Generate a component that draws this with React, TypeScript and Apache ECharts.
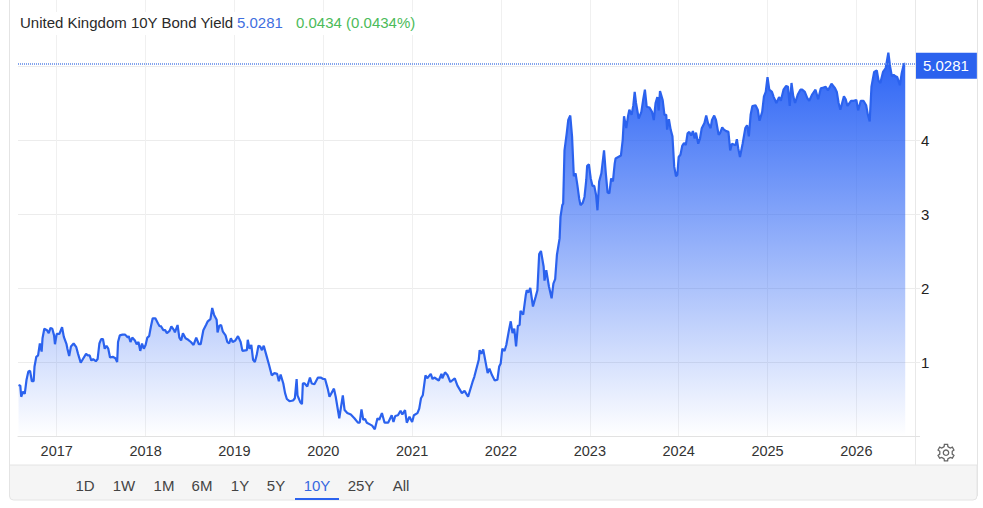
import React, { useEffect, useRef } from "react";
import * as echarts from "echarts";

const t2016 = [2016.57,2016.59,2016.60,2016.62,2016.64,2016.66,2016.68,2016.70,2016.72,2016.74,2016.75,2016.77,2016.79,2016.81,2016.83,2016.84,2016.86,2016.89,2016.91,2016.93,2016.95,2016.97,2016.98];
const y2016 = [0.69,0.68,0.53,0.60,0.57,0.76,0.87,0.88,0.74,0.74,0.94,1.07,1.09,1.25,1.14,1.32,1.45,1.43,1.39,1.46,1.45,1.36,1.24];
const t2017 = [2017.00,2017.03,2017.06,2017.08,2017.11,2017.12,2017.14,2017.16,2017.19,2017.22,2017.24,2017.27,2017.30,2017.33,2017.35,2017.37,2017.39,2017.41,2017.44,2017.46,2017.48,2017.50,2017.52,2017.54,2017.56,2017.58,2017.60,2017.63,2017.66,2017.68,2017.69,2017.71,2017.74,2017.77,2017.80,2017.81,2017.83,2017.85,2017.88,2017.90,2017.92,2017.94,2017.96,2017.98];
const y2017 = [1.38,1.38,1.47,1.34,1.24,1.18,1.08,1.21,1.25,1.20,1.11,0.99,1.05,1.11,1.09,1.09,1.02,1.04,1.01,1.04,1.25,1.31,1.31,1.18,1.22,1.18,1.06,1.07,1.05,1.00,1.27,1.36,1.37,1.37,1.33,1.35,1.27,1.33,1.29,1.24,1.27,1.15,1.25,1.18];
const t2018 = [2018.00,2018.02,2018.04,2018.06,2018.08,2018.11,2018.14,2018.16,2018.17,2018.20,2018.22,2018.24,2018.27,2018.29,2018.32,2018.33,2018.36,2018.38,2018.40,2018.42,2018.45,2018.48,2018.51,2018.54,2018.57,2018.60,2018.62,2018.65,2018.68,2018.70,2018.73,2018.75,2018.77,2018.80,2018.81,2018.83,2018.85,2018.87,2018.90,2018.92,2018.94,2018.96,2018.98];
const y2018 = [1.23,1.33,1.35,1.48,1.59,1.59,1.52,1.48,1.49,1.43,1.43,1.39,1.42,1.48,1.43,1.40,1.50,1.33,1.29,1.39,1.32,1.30,1.27,1.23,1.33,1.24,1.24,1.43,1.50,1.55,1.58,1.73,1.64,1.57,1.40,1.49,1.50,1.41,1.36,1.27,1.25,1.32,1.27];
const t2019 = [2019.01,2019.04,2019.07,2019.09,2019.14,2019.15,2019.17,2019.19,2019.21,2019.23,2019.25,2019.27,2019.29,2019.31,2019.33,2019.36,2019.39,2019.42,2019.45,2019.48,2019.50,2019.52,2019.55,2019.57,2019.59,2019.62,2019.66,2019.68,2019.70,2019.71,2019.74,2019.76,2019.77,2019.79,2019.82,2019.85,2019.87,2019.90,2019.94,2019.97];
const y2019 = [1.29,1.35,1.27,1.15,1.16,1.30,1.18,1.23,1.03,1.00,1.09,1.22,1.21,1.16,1.22,1.09,0.96,0.82,0.85,0.84,0.74,0.83,0.71,0.58,0.50,0.47,0.48,0.51,0.77,0.55,0.46,0.43,0.71,0.71,0.67,0.79,0.71,0.70,0.79,0.79];
const t2020 = [2020.00,2020.02,2020.05,2020.07,2020.12,2020.14,2020.18,2020.22,2020.24,2020.27,2020.31,2020.35,2020.39,2020.41,2020.43,2020.45,2020.47,2020.49,2020.52,2020.55,2020.58,2020.61,2020.63,2020.66,2020.69,2020.73,2020.77,2020.79,2020.81,2020.84,2020.87,2020.89,2020.92,2020.94,2020.97];
const y2020 = [0.77,0.77,0.64,0.53,0.64,0.53,0.24,0.55,0.35,0.31,0.29,0.24,0.18,0.18,0.36,0.22,0.23,0.18,0.16,0.14,0.09,0.24,0.22,0.31,0.18,0.18,0.28,0.19,0.27,0.28,0.34,0.29,0.35,0.18,0.26];
const t2021 = [2021.00,2021.02,2021.06,2021.08,2021.10,2021.12,2021.15,2021.17,2021.21,2021.23,2021.25,2021.30,2021.33,2021.34,2021.37,2021.40,2021.43,2021.48,2021.51,2021.56,2021.59,2021.63,2021.68,2021.70,2021.75,2021.76,2021.78,2021.80,2021.85,2021.87,2021.90,2021.93,2021.96,2021.98,2021.997];
const y2021 = [0.19,0.28,0.31,0.37,0.51,0.55,0.82,0.78,0.84,0.77,0.79,0.75,0.84,0.78,0.86,0.82,0.73,0.78,0.68,0.58,0.61,0.53,0.73,0.80,1.03,1.16,1.11,1.17,0.85,0.91,0.82,0.75,0.76,0.94,0.98];
const t2022 = [2022.015,2022.04,2022.06,2022.09,2022.11,2022.13,2022.15,2022.17,2022.19,2022.21,2022.22,2022.25,2022.28,2022.29,2022.31,2022.33,2022.36,2022.39,2022.41,2022.43,2022.45,2022.48,2022.49,2022.51,2022.54,2022.57,2022.59,2022.61,2022.63,2022.66,2022.67,2022.69,2022.70,2022.715,2022.74,2022.757,2022.78,2022.80,2022.82,2022.84,2022.86,2022.88,2022.895,2022.92,2022.94,2022.96,2022.97,2022.99];
const y2022 = [1.18,1.15,1.23,1.43,1.55,1.39,1.45,1.21,1.49,1.50,1.69,1.64,1.91,1.97,1.94,2.00,1.75,1.88,1.97,2.46,2.50,2.29,2.10,2.24,2.02,1.86,2.06,2.12,2.45,2.67,2.96,3.12,3.14,3.86,4.09,4.27,4.33,4.05,3.51,3.55,3.39,3.21,3.12,3.15,3.23,3.46,3.65,3.67];
const t2023 = [2023.01,2023.03,2023.05,2023.07,2023.086,2023.105,2023.13,2023.16,2023.18,2023.20,2023.22,2023.24,2023.26,2023.28,2023.29,2023.32,2023.35,2023.37,2023.385,2023.41,2023.43,2023.445,2023.47,2023.49,2023.505,2023.52,2023.55,2023.58,2023.60,2023.62,2023.64,2023.67,2023.70,2023.72,2023.74,2023.76,2023.775,2023.79,2023.82,2023.84,2023.86,2023.87,2023.89,2023.91,2023.93,2023.95,2023.97,2023.985];
const y2023 = [3.48,3.38,3.38,3.26,3.05,3.44,3.55,3.86,3.55,3.29,3.28,3.48,3.44,3.68,3.75,3.77,3.79,4.00,4.32,4.16,4.32,4.41,4.34,4.47,4.65,4.50,4.29,4.38,4.54,4.68,4.45,4.44,4.38,4.27,4.50,4.58,4.40,4.66,4.54,4.34,4.34,4.14,4.28,4.14,4.05,3.64,3.51,3.53];
const t2024 = [2024.00,2024.02,2024.04,2024.06,2024.08,2024.10,2024.12,2024.14,2024.16,2024.18,2024.195,2024.22,2024.24,2024.26,2024.29,2024.31,2024.33,2024.36,2024.375,2024.40,2024.42,2024.45,2024.465,2024.49,2024.51,2024.535,2024.56,2024.58,2024.60,2024.64,2024.655,2024.67,2024.69,2024.72,2024.75,2024.77,2024.79,2024.81,2024.83,2024.865,2024.89,2024.91,2024.94,2024.96,2024.98];
const y2024 = [3.77,3.80,3.92,3.96,3.93,4.09,4.11,4.06,4.12,4.02,4.10,3.95,4.02,4.16,4.23,4.33,4.23,4.16,4.27,4.33,4.27,4.07,4.09,4.17,4.14,4.12,4.11,3.86,3.95,3.93,4.01,3.89,3.77,3.95,4.16,4.20,4.05,4.34,4.46,4.47,4.41,4.26,4.38,4.59,4.65];
const t2025 = [2025.00,2025.02,2025.05,2025.07,2025.10,2025.13,2025.15,2025.18,2025.21,2025.23,2025.25,2025.27,2025.29,2025.31,2025.34,2025.37,2025.39,2025.42,2025.45,2025.47,2025.50,2025.54,2025.57,2025.60,2025.63,2025.655,2025.68,2025.72,2025.76,2025.78,2025.80,2025.82,2025.86,2025.88,2025.90,2025.94,2025.97];
const y2025 = [4.85,4.68,4.65,4.58,4.50,4.58,4.53,4.68,4.73,4.72,4.46,4.77,4.59,4.50,4.61,4.68,4.68,4.65,4.56,4.53,4.61,4.68,4.55,4.70,4.71,4.72,4.67,4.76,4.70,4.65,4.50,4.41,4.59,4.55,4.46,4.53,4.53];
const t2026 = [2026.00,2026.02,2026.05,2026.08,2026.11,2026.13,2026.15,2026.17,2026.20,2026.23,2026.25,2026.27,2026.30,2026.33,2026.36,2026.38,2026.40,2026.42,2026.44,2026.46,2026.49,2026.51,2026.535,2026.55];
const y2026 = [4.54,4.40,4.53,4.53,4.47,4.34,4.25,4.72,4.92,4.94,4.80,4.77,4.92,4.97,5.18,4.99,4.86,4.88,4.86,4.85,4.74,4.90,5.03,5.0281];

const yearTicks = [2017, 2018, 2019, 2020, 2021, 2022, 2023, 2024, 2025, 2026];
const yieldTicks = [0, 1, 2, 3, 4, 5];
const yieldLabels = [1, 2, 3, 4];
const ranges = ["1D", "1W", "1M", "6M", "1Y", "5Y", "10Y", "25Y", "All"];
const rangeCenters = [85, 124, 164, 202, 240, 276, 317, 361, 401];

const lastValue = "5.0281";
const change = "0.0434 (0.0434%)";
const titleText = "United Kingdom 10Y Bond Yield";

const FONT = '"Liberation Sans", Arial, sans-serif';
const BLUE = "#2b62ee";
const GRID = "#ececec";
const FRAME = "#e4e4e4";

function gearPoints(cx: number, cy: number) {
  const pts: number[][] = [];
  for (let i = 0; i < 6; i++) {
    const a = -90 + i * 60;
    for (const [d, r] of [[-30, 6.2], [-17, 6.4], [-11, 8.4], [11, 8.4], [17, 6.4]] as number[][]) {
      const rad = ((a + d) * Math.PI) / 180;
      pts.push([cx + r * Math.cos(rad), cy + r * Math.sin(rad)]);
    }
  }
  return pts;
}

export default function App() {
  const ref = useRef<HTMLDivElement>(null);
  useEffect(() => {
    const chart = echarts.init(ref.current!, undefined, { renderer: "svg" });
    const allT = [...t2016, ...t2017, ...t2018, ...t2019, ...t2020, ...t2021, ...t2022, ...t2023, ...t2024, ...t2025, ...t2026];
    const allY = [...y2016, ...y2017, ...y2018, ...y2019, ...y2020, ...y2021, ...y2022, ...y2023, ...y2024, ...y2025, ...y2026];
    const data = allT.map((t, i) => [t, allY[i]]);
    const line = (x1: number, y1: number, x2: number, y2: number, stroke: string) => ({
      type: "line", z: 20, shape: { x1, y1, x2, y2 }, style: { stroke, lineWidth: 1 },
    });
    const label = (x: number, y: number, text: string, fill: string, align = "left") => ({
      type: "text", z: 30, x, y,
      style: { text, fill, font: `15px ${FONT}`, textAlign: align, textVerticalAlign: "middle" },
    });
    chart.setOption({
      animation: false,
      backgroundColor: "#ffffff",
      grid: { left: 18, right: 68, top: 0, bottom: 72, containLabel: false },
      xAxis: {
        type: "value",
        min: 2016.564,
        max: 2026.66,
        axisLine: { show: true, lineStyle: { color: "#e2e2e2" } },
        axisTick: { show: false, customValues: yearTicks },
        axisLabel: {
          customValues: yearTicks,
          formatter: (v: number) => String(Math.round(v)),
          color: "#333333",
          fontFamily: FONT,
          fontSize: 14.5,
          margin: 7,
        },
        splitLine: { show: true, lineStyle: { color: "#f0f0f0" } },
      },
      yAxis: {
        type: "value",
        position: "right",
        min: 0,
        max: 436 / 74,
        axisLine: { show: true, lineStyle: { color: "#e8e8e8" } },
        axisTick: { show: true, length: 5, customValues: yieldTicks, lineStyle: { color: GRID } },
        axisLabel: {
          customValues: yieldLabels,
          color: "#222222",
          fontFamily: FONT,
          fontSize: 15,
          margin: 6,
          formatter: (v: number) => String(v),
        },
        splitLine: { show: true, lineStyle: { color: GRID } },
      },
      series: [
        {
          type: "line",
          data,
          showSymbol: false,
          smooth: false,
          lineStyle: { color: BLUE, width: 2.2 },
          itemStyle: { color: BLUE },
          areaStyle: {
            opacity: 1,
            color: new echarts.graphic.LinearGradient(0, 0, 0, 1, [
              { offset: 0, color: "rgba(41,98,245,1)" },
              { offset: 1, color: "rgba(41,98,245,0)" },
            ]),
          },
          markLine: {
            silent: true,
            symbol: "none",
            data: [{ yAxis: Number(lastValue) }],
            lineStyle: { color: "#5b86e8", type: [1, 1], width: 1.5 },
            label: {
              show: true,
              position: "end",
              distance: 1,
              offset: [0, 2],
              formatter: lastValue,
              color: "#ffffff",
              backgroundColor: BLUE,
              fontFamily: FONT,
              fontSize: 15,
              padding: [6, 8, 5, 7],
            },
          },
        },
      ],
      graphic: [
        { type: "rect", z: 10, shape: { x: 18, y: 12, width: 410, height: 23 }, style: { fill: "#ffffff" } },
        label(20, 22.5, titleText, "#2a2a2a"),
        label(237, 22.5, lastValue, "#3f6fe0"),
        label(296, 22.5, change, "#4cbb5a"),
        { type: "rect", z: 15, shape: { x: 9.5, y: 465, width: 967.5, height: 35, r: [0, 0, 4, 4] }, style: { fill: "#f5f5f5", stroke: FRAME, lineWidth: 1 } },
        line(9.5, 0, 9.5, 496, FRAME),
        line(977.5, 0, 977.5, 496, FRAME),
        line(915.5, 436, 915.5, 465, "#e8e8e8"),
        line(915, 436.5, 920, 436.5, "#e2e2e2"),
        ...ranges.map((r, i) => label(rangeCenters[i], 485.5, r, r === "10Y" ? "#3568e0" : "#444444", "center")),
        { type: "rect", z: 30, shape: { x: 295, y: 498, width: 44, height: 2 }, style: { fill: BLUE } },
        { type: "polygon", z: 30, shape: { points: gearPoints(946, 452.7) }, style: { fill: "none", stroke: "#666666", lineWidth: 1.3 } },
        { type: "circle", z: 30, shape: { cx: 946, cy: 452.7, r: 2.7 }, style: { fill: "none", stroke: "#666666", lineWidth: 1.3 } },
      ],
    });
    return () => chart.dispose();
  }, []);
  return <div ref={ref} style={{ position: "fixed", left: 0, top: 0, width: 983, height: 508 }} />;
}
